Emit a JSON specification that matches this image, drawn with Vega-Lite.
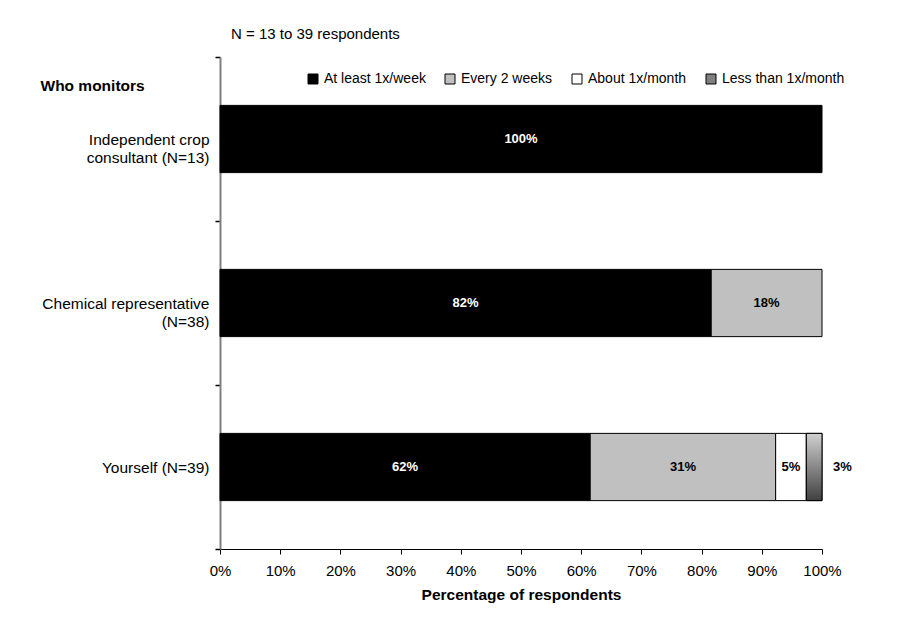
{
  "$schema": "https://vega.github.io/schema/vega-lite/v6.json",
  "autosize": "none",
  "width": 602,
  "height": 492,
  "padding": {"left": 220, "top": 57, "right": 78, "bottom": 72},
  "background": "white",
  "title": {"text": "N = 13 to 39 respondents", "frame": "group", "anchor": "start", "dx": 11, "dy": 23, "offset": 16, "baseline": "bottom", "font": "Liberation Sans", "fontSize": 15, "fontWeight": "normal", "color": "black"},
  "data": {"values": [
    {"who": "Independent crop|consultant (N=13)", "cat": "At least 1x/week", "pct": 1.0, "label": "100%", "order": 1},
    {"who": "Chemical representative|(N=38)", "cat": "At least 1x/week", "pct": 0.816, "label": "82%", "order": 1},
    {"who": "Chemical representative|(N=38)", "cat": "Every 2 weeks", "pct": 0.184, "label": "18%", "order": 2},
    {"who": "Yourself (N=39)", "cat": "At least 1x/week", "pct": 0.615, "label": "62%", "order": 1},
    {"who": "Yourself (N=39)", "cat": "Every 2 weeks", "pct": 0.308, "label": "31%", "order": 2},
    {"who": "Yourself (N=39)", "cat": "About 1x/month", "pct": 0.051, "label": "5%", "order": 3},
    {"who": "Yourself (N=39)", "cat": "Less than 1x/month", "pct": 0.026, "label": "3%", "order": 4}
  ]},
  "transform": [
    {"stack": "pct", "groupby": ["who"], "sort": [{"field": "order", "order": "ascending"}], "as": ["x0", "x1"]},
    {"calculate": "(datum.x0 + datum.x1) / 2", "as": "mid"}
  ],
  "encoding": {
    "y": {
      "field": "who", "type": "nominal",
      "sort": ["Independent crop|consultant (N=13)", "Chemical representative|(N=38)", "Yourself (N=39)"],
      "scale": {"paddingInner": 0, "paddingOuter": 0},
      "axis": {
        "title": "Who monitors", "titleAngle": 0, "titleX": -180, "titleY": 28, "titleAlign": "left", "titleBaseline": "middle",
        "titleFont": "Liberation Sans", "titleFontSize": 15.5, "titleFontWeight": "bold", "titleColor": "black",
        "labelExpr": "split(datum.label, '|')", "labelFont": "Liberation Sans", "labelFontSize": 15.5, "labelColor": "black",
        "labelLineHeight": 18, "labelPadding": 6, "labelAlign": "right",
        "tickBand": "extent", "ticks": true, "tickSize": 5, "tickColor": "black", "tickWidth": 1.5,
        "domainColor": "#808080", "domainWidth": 2, "grid": false
      }
    }
  },
  "layer": [
    {
      "mark": {"type": "bar", "stroke": "black", "strokeWidth": 1, "height": {"band": 0.41}},
      "encoding": {
        "x": {"field": "x0", "type": "quantitative", "scale": {"domain": [0, 1]},
          "axis": {"title": "Percentage of respondents", "format": ".0%", "values": [0, 0.1, 0.2, 0.3, 0.4, 0.5, 0.6, 0.7, 0.8, 0.9, 1.0],
            "grid": false, "domainColor": "black", "domainWidth": 1, "tickColor": "black", "tickSize": 5, "labelFlush": false,
            "labelFont": "Liberation Sans", "labelFontSize": 15, "labelColor": "black", "labelPadding": 9,
            "titleFont": "Liberation Sans", "titleFontSize": 15.5, "titleFontWeight": "bold", "titleColor": "black", "titlePadding": 9}},
        "x2": {"field": "x1"},
        "fill": {"field": "cat", "type": "nominal",
          "scale": {"domain": ["At least 1x/week", "Every 2 weeks", "About 1x/month", "Less than 1x/month"],
            "range": ["#000000", "#c0c0c0", "#ffffff", "#808080"]},
          "legend": {"title": null, "orient": "none", "legendX": 86, "legendY": 15, "direction": "horizontal", "columns": 4,
            "symbolType": "square", "symbolSize": 100, "symbolStrokeColor": "black", "symbolStrokeWidth": 1, "symbolOpacity": 1,
            "labelFont": "Liberation Sans", "labelFontSize": 14, "labelColor": "black", "labelOffset": 4, "columnPadding": 17, "labelLimit": 250}}
      }
    },
    {
      "transform": [{"filter": "datum.cat === 'Less than 1x/month'"}],
      "mark": {"type": "bar", "stroke": "black", "strokeWidth": 1, "height": {"band": 0.41},
        "fill": {"gradient": "linear", "x1": 0, "y1": 0, "x2": 0, "y2": 1, "stops": [{"offset": 0, "color": "#d0d0d0"}, {"offset": 1, "color": "#404040"}]}},
      "encoding": {
        "x": {"field": "x0", "type": "quantitative"},
        "x2": {"field": "x1"}
      }
    },
    {
      "transform": [{"filter": "datum.cat !== 'Less than 1x/month'"}],
      "mark": {"type": "text", "font": "Liberation Sans", "fontSize": 13, "fontWeight": "bold", "align": "center", "baseline": "middle"},
      "encoding": {
        "x": {"field": "mid", "type": "quantitative"},
        "text": {"field": "label"},
        "color": {"condition": {"test": "datum.cat === 'At least 1x/week'", "value": "white"}, "value": "black"}
      }
    },
    {
      "transform": [{"filter": "datum.cat === 'Less than 1x/month'"}],
      "mark": {"type": "text", "font": "Liberation Sans", "fontSize": 13, "fontWeight": "bold", "align": "left", "baseline": "middle", "dx": 11, "color": "black"},
      "encoding": {
        "x": {"field": "x1", "type": "quantitative"},
        "text": {"field": "label"}
      }
    }
  ],
  "config": {"view": {"stroke": null}}
}
